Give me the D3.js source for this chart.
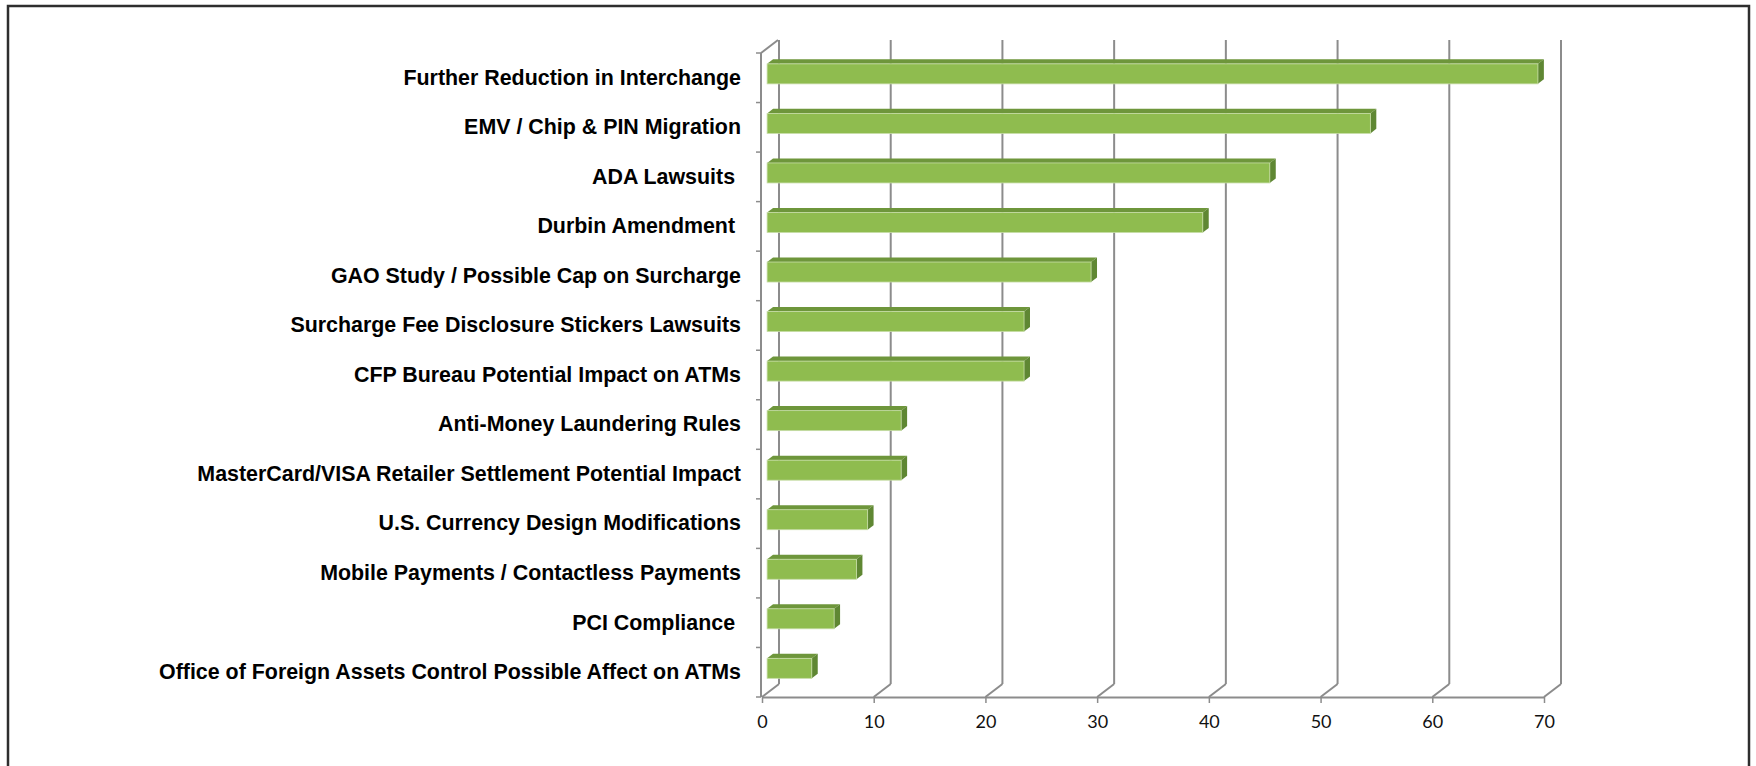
<!DOCTYPE html>
<html>
<head>
<meta charset="utf-8">
<script src="https://cdn.jsdelivr.net/npm/d3@7"></script>
<style>
  html, body { margin: 0; padding: 0; background: #fff; }
  svg { display: block; }
  .cat text { white-space: pre; }
</style>
</head>
<body>
<svg id="chart" width="1756" height="766"></svg>
<script>
// Issues ranked by response count
const categories = [
  "Further Reduction in Interchange",
  "EMV / Chip & PIN Migration",
  "ADA Lawsuits ",
  "Durbin Amendment ",
  "GAO Study / Possible Cap on Surcharge",
  "Surcharge Fee Disclosure Stickers Lawsuits",
  "CFP Bureau Potential Impact on ATMs",
  "Anti-Money Laundering Rules",
  "MasterCard/VISA Retailer Settlement Potential Impact",
  "U.S. Currency Design Modifications",
  "Mobile Payments / Contactless Payments",
  "PCI Compliance ",
  "Office of Foreign Assets Control Possible Affect on ATMs"
];
const values = [69, 54, 45, 39, 29, 23, 23, 12, 12, 9, 8, 6, 4];
const xTicks = [0, 10, 20, 30, 40, 50, 60, 70];

const svg = d3.select("#chart");

// outer frame (bottom edge runs off the page)
svg.append("rect")
  .attr("x", 8).attr("y", 6).attr("width", 1741).attr("height", 775)
  .attr("fill", "none").attr("stroke", "#2e2e2e").attr("stroke-width", 2.5);

// front plane of the 3-D box
const plotLeft = 762, plotRight = 1544, plotTop = 53, plotBottom = 697;
const x = d3.scaleLinear().domain([0, 70]).range([plotLeft, plotRight]);
const y = d3.scaleBand().domain(categories).range([plotTop, plotBottom]).paddingInner(0);

// depth vector of the box (front -> back wall)
const DX = 17, DY = -13;
const depth = t => [DX * t, DY * t];

const gridColor = "#8c8c8c";
const g = svg.append("g");

// back wall gridlines + floor diagonals
xTicks.forEach(v => {
  const xf = x(v), xb = xf + DX;
  g.append("line")
    .attr("x1", xb).attr("y1", plotTop + DY).attr("x2", xb).attr("y2", plotBottom + DY)
    .attr("stroke", gridColor).attr("stroke-width", 2);
  g.append("line")
    .attr("x1", xf).attr("y1", plotBottom).attr("x2", xb).attr("y2", plotBottom + DY)
    .attr("stroke", gridColor).attr("stroke-width", 2);
});

// left wall top edge
g.append("line")
  .attr("x1", plotLeft - 1).attr("y1", plotTop).attr("x2", plotLeft - 1 + DX).attr("y2", plotTop + DY)
  .attr("stroke", gridColor).attr("stroke-width", 2);

// left (category) axis: front edge line with ticks at band boundaries
const boundaries = categories.map(c => y(c)).concat([plotBottom]);
g.append("line")
  .attr("x1", plotLeft - 1).attr("y1", plotTop).attr("x2", plotLeft - 1).attr("y2", plotBottom)
  .attr("stroke", gridColor).attr("stroke-width", 2);
boundaries.forEach(b => {
  g.append("line")
    .attr("x1", plotLeft - 6).attr("y1", b).attr("x2", plotLeft - 1).attr("y2", b)
    .attr("stroke", gridColor).attr("stroke-width", 1.5);
});

// category labels
const cat = svg.append("g").attr("class", "cat")
  .attr("transform", `translate(${plotLeft - 1},0)`)
  .call(d3.axisLeft(y).tickSize(0).tickPadding(20));
cat.select(".domain").remove();
cat.selectAll("text")
  .attr("font-family", "'Liberation Sans', Arial, sans-serif")
  .attr("font-weight", "bold")
  .attr("font-size", 21.4)
  .attr("fill", "#000");

// value axis along the front floor edge
const xa = svg.append("g")
  .attr("transform", `translate(0,${plotBottom})`)
  .call(d3.axisBottom(x).tickValues(xTicks).tickSize(6).tickPadding(12).tickSizeOuter(0));
xa.select(".domain").attr("stroke", gridColor).attr("stroke-width", 2);
xa.selectAll(".tick line").attr("stroke", gridColor).attr("stroke-width", 1.5);
xa.selectAll("text")
  .attr("font-family", "Lato, 'Open Sans', sans-serif")
  .attr("font-size", 18)
  .attr("fill", "#111");

// 3-D bars
const barH = 20;
const [fx, fy] = depth(0.3);
const [bx, by] = depth(0.65);
const bars = svg.append("g");
categories.forEach((c, i) => {
  const v = values[i];
  const x0 = x(0), x1 = x(v);
  const cy = y(c) + y.bandwidth() / 2;
  const yT = cy - barH / 2, yB = cy + barH / 2;
  const bg = bars.append("g");
  // top face
  bg.append("path")
    .attr("d", `M${x0 + fx},${yT + fy} L${x1 + fx},${yT + fy} L${x1 + bx},${yT + by} L${x0 + bx},${yT + by} Z`)
    .attr("fill", "#6e963b");
  // side face
  bg.append("path")
    .attr("d", `M${x1 + fx},${yT + fy} L${x1 + bx},${yT + by} L${x1 + bx},${yB + by} L${x1 + fx},${yB + fy} Z`)
    .attr("fill", "#5f8733");
  // front face
  bg.append("rect")
    .attr("x", x0 + fx).attr("y", yT + fy)
    .attr("width", x1 - x0).attr("height", barH)
    .attr("fill", "#8fbc4f")
    .attr("stroke", "#c6dca6").attr("stroke-width", 0.8);
});
</script>
</body>
</html>
